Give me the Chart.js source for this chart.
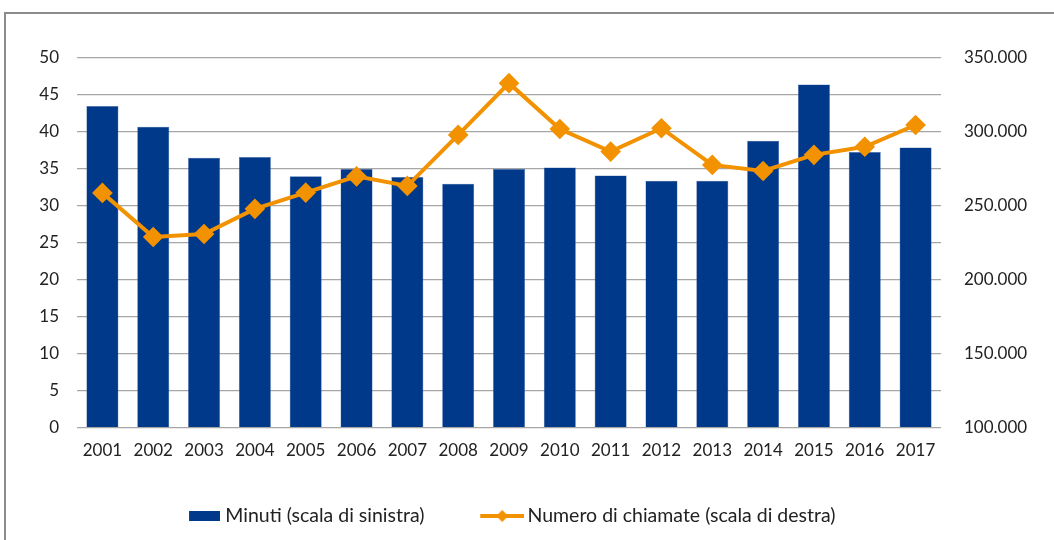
<!DOCTYPE html>
<html>
<head>
<meta charset="utf-8">
<script src="https://cdn.jsdelivr.net/npm/chart.js@4"></script>
<style>
  html, body { margin: 0; padding: 0; background: #fff; overflow: hidden; }
  #frame {
    position: absolute; left: 4px; top: 12px; width: 1060px; height: 540px;
    border: 2px solid #8c8c8c; box-sizing: border-box;
  }
  /* canvas starts a bit off the left edge so the legend sits left of centre, like the original */
  #wrap { position: absolute; left: -48px; top: 0; width: 1102px; height: 540px; }
</style>
</head>
<body>
<div id="frame"></div>
<div id="wrap"><canvas id="chart"></canvas></div>
<script>
// Years on the x axis
const years = ["2001", "2002", "2003", "2004", "2005", "2006", "2007", "2008", "2009",
               "2010", "2011", "2012", "2013", "2014", "2015", "2016", "2017"];
// Minutes (left scale)
const minuti = [43.5, 40.7, 36.5, 36.6, 34.0, 35.0, 33.9, 33.0, 35.0,
                35.2, 34.1, 33.4, 33.4, 38.8, 46.4, 37.3, 37.9];
// Number of calls (right scale)
const chiamate = [258800, 229000, 231000, 248000, 259000, 270000, 263500, 298000, 333000,
                  302000, 286700, 302500, 277700, 273600, 284500, 290000, 304700];

const blue = '#01398a';
const orange = '#f39200';
const shift = 48;       // how far the canvas sticks out on the left
const boxW = 45;        // legend symbol slot
const legendPad = 48.25;

// little canvases used as legend symbols (Chart.js centres them in the slot)
function legendBar() {
    const c = document.createElement('canvas');
    c.width = 54; c.height = 12;
    const g = c.getContext('2d');
    g.fillStyle = blue;
    g.fillRect(c.width - 31, 1, 31, 10);
    return c;
}
function legendLine() {
    const c = document.createElement('canvas');
    c.width = 58; c.height = 16;
    const g = c.getContext('2d');
    const x0 = c.width - 44;
    g.strokeStyle = orange;
    g.lineWidth = 4;
    g.beginPath(); g.moveTo(x0, 8); g.lineTo(x0 + 44, 8); g.stroke();
    g.fillStyle = orange;
    g.beginPath(); g.moveTo(x0 + 22, 2); g.lineTo(x0 + 28, 8); g.lineTo(x0 + 22, 14); g.lineTo(x0 + 16, 8); g.closePath(); g.fill();
    return c;
}

const fmt = (v) => String(v).replace(/\B(?=(\d{3})+(?!\d))/g, '.');

const ctx = document.getElementById('chart').getContext('2d');
new Chart(ctx, {
    data: {
        labels: years,
        datasets: [
            {
                type: 'line',
                label: 'Numero di chiamate (scala di destra)',
                data: chiamate,
                yAxisID: 'y2',
                borderColor: orange,
                backgroundColor: orange,
                borderWidth: 4,
                pointStyle: 'rectRot',
                pointRadius: 7.5,
                pointHoverRadius: 7.5,
                tension: 0,
                order: 0
            },
            {
                type: 'bar',
                label: 'Minuti (scala di sinistra)',
                data: minuti,
                yAxisID: 'y',
                backgroundColor: blue,
                borderColor: '#4a6fb0',
                borderWidth: 0.5,
                barPercentage: 0.63,
                categoryPercentage: 1.0,
                order: 1
            }
        ]
    },
    options: {
        responsive: true,
        maintainAspectRatio: false,
        animation: false,
        layout: { padding: { top: 58, bottom: 4.25, left: 0, right: 0 } },
        scales: {
            x: {
                grid: { display: false },
                border: { display: false },
                ticks: { color: '#222', font: { family: 'Lato', size: 17 }, padding: 5, maxRotation: 0 },
                afterFit: (s) => { s.height = 30.25; }
            },
            y: {
                position: 'left',
                min: 0, max: 50,
                ticks: { stepSize: 5, color: '#222', font: { family: 'Lato', size: 17 }, padding: 18 },
                grid: { color: '#a6a6a6', lineWidth: 1.3, drawTicks: false },
                border: { display: false },
                afterFit: (s) => { s.width = 77 + shift; }
            },
            y2: {
                position: 'right',
                min: 100000, max: 350000,
                ticks: { stepSize: 50000, color: '#222', font: { family: 'Lato', size: 17 }, padding: 15,
                         callback: (v) => fmt(v) },
                grid: { display: false },
                border: { display: false },
                afterFit: (s) => { s.width = 113; }
            }
        },
        plugins: {
            tooltip: { enabled: false },
            legend: {
                position: 'bottom',
                reverse: true,
                labels: {
                    usePointStyle: true,
                    pointStyleWidth: boxW,
                    padding: legendPad,
                    color: '#222',
                    font: { family: 'Lato', size: 19.5 },
                    generateLabels: (chart) => chart.data.datasets.map((d, i) => ({
                        text: d.label,
                        pointStyle: d.type === 'bar' ? legendBar() : legendLine(),
                        fontColor: '#222',
                        datasetIndex: i,
                        hidden: false,
                        lineWidth: 0
                    }))
                }
            }
        }
    }
});
</script>
</body>
</html>
